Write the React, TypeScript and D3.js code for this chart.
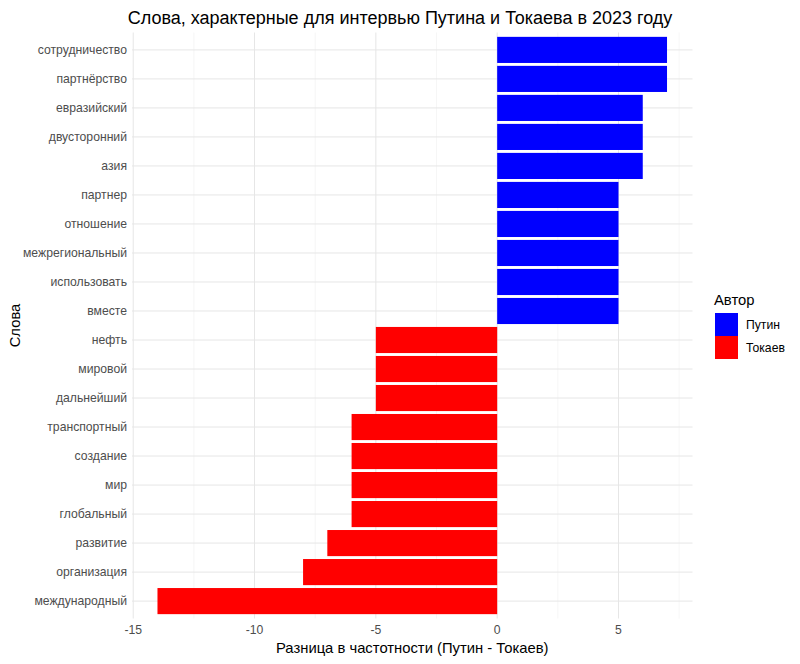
import React from "react";
import * as d3 from "d3";

const words = [
  "сотрудничество", "партнёрство", "евразийский", "двусторонний", "азия",
  "партнер", "отношение", "межрегиональный", "использовать", "вместе",
  "нефть", "мировой", "дальнейший", "транспортный", "создание",
  "мир", "глобальный", "развитие", "организация", "международный",
];
const values = [7, 7, 6, 6, 6, 5, 5, 5, 5, 5, -5, -5, -5, -6, -6, -6, -6, -7, -8, -14];
const authors = ["Путин", "Токаев"];
const colors = ["#0000FF", "#FF0000"];
const xTicks = [-15, -10, -5, 0, 5];
const xMinor = [-12.5, -7.5, -2.5, 2.5, 7.5];

const W = 800, H = 664;
const left = 132, right = 692.5, top = 32.5, bottom = 618.5;
const font = "'Liberation Sans', Arial, sans-serif";

export default function App() {
  const ext = d3.extent(values) as [number, number];
  const span = ext[1] - ext[0];
  const x = d3.scaleLinear().domain([ext[0] - span * 0.05, ext[1] + span * 0.05]).range([left, right]);
  const step = (bottom - top) / (words.length + 0.2);
  const yc = (w: string) => top + step * (0.6 + words.indexOf(w));
  const bh = step * 0.9;
  return (
    <svg width={W} height={H} style={{ position: "absolute", left: 0, top: 0, background: "#fff" }} fontFamily={font}>
      <rect x={0} y={0} width={W} height={H} fill="#fff" />
      {xMinor.map((t) => (
        <line key={"m" + t} x1={x(t)} x2={x(t)} y1={top} y2={bottom} stroke="#f0f0f0" strokeWidth={0.6} />
      ))}
      {xTicks.map((t) => (
        <line key={"g" + t} x1={x(t)} x2={x(t)} y1={top} y2={bottom} stroke="#e6e6e6" strokeWidth={1} />
      ))}
      {words.map((w) => (
        <line key={"h" + w} x1={left} x2={right} y1={yc(w)} y2={yc(w)} stroke="#e6e6e6" strokeWidth={1} />
      ))}
      {words.map((w, i) => {
        const v = values[i];
        return (
          <rect key={"b" + w} x={Math.min(x(0), x(v))} width={Math.abs(x(v) - x(0))} y={yc(w) - bh / 2} height={bh}
            fill={v > 0 ? colors[0] : colors[1]} />
        );
      })}
      {words.map((w) => (
        <text key={"l" + w} x={left - 5} y={yc(w)} dy="0.35em" textAnchor="end" fontSize={12.2} fill="#4d4d4d">{w}</text>
      ))}
      {xTicks.map((t) => (
        <text key={"t" + t} x={x(t)} y={bottom + 15} textAnchor="middle" fontSize={12.2} fill="#4d4d4d">{t}</text>
      ))}
      <text x={(left + right) / 2} y={653} textAnchor="middle" fontSize={14.8} fill="#000">Разница в частотности (Путин - Токаев)</text>
      <text transform={`translate(20,${(top + bottom) / 2}) rotate(-90)`} textAnchor="middle" fontSize={14.8} fill="#000">Слова</text>
      <text x={400} y={24} textAnchor="middle" fontSize={18} fill="#000">Слова, характерные для интервью Путина и Токаева в 2023 году</text>
      <text x={714} y={305} fontSize={14.8} fill="#000">Автор</text>
      {authors.map((a, i) => (
        <g key={a}>
          <rect x={715} y={313 + i * 23} width={23} height={23} fill={colors[i]} />
          <text x={746} y={313 + i * 23 + 11.5} dy="0.35em" fontSize={12.2} fill="#000">{a}</text>
        </g>
      ))}
    </svg>
  );
}
